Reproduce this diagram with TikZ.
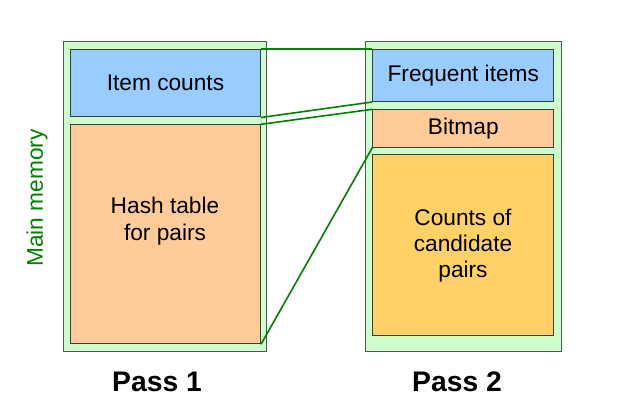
\documentclass[tikz,border=0pt]{standalone}
\usepackage{fontspec}
\setmainfont{Liberation Sans}
\definecolor{memgreen}{HTML}{CCFFCC}
\definecolor{itemblue}{HTML}{99CCFF}
\definecolor{hashorange}{HTML}{FFCC99}
\definecolor{candyellow}{HTML}{FFD166}
\definecolor{linegreen}{HTML}{008000}
\definecolor{edgegray}{HTML}{555555}
\begin{document}
\begin{tikzpicture}[x=1pt,y=-1pt,
  outerbox/.style={draw=edgegray, line width=1pt, fill=memgreen, anchor=north west, inner sep=0pt},
  memblock/.style={draw=edgegray!70!black, line width=1pt, anchor=north west, inner sep=0pt, align=center,
     font=\fontsize{22.7}{26}\selectfont},
  link/.style={draw=linegreen, line width=1.6pt},
  passlabel/.style={font=\fontsize{28.3}{30}\bfseries\selectfont}]
\useasboundingbox (0,0) rectangle (620,419);
% outer memory boxes
\node[outerbox, minimum width=203pt, minimum height=309pt] (m1) at (63,41.5) {};
\node[outerbox, minimum width=196.5pt, minimum height=309pt] (m2) at (364.5,41.5) {};
% pass 1
\node[memblock, fill=itemblue, minimum width=190pt, minimum height=67.5pt, text depth=2pt] (ic) at (70,49) {Item counts};
\node[memblock, fill=hashorange, minimum width=190pt, minimum height=219pt] (ht) at (70,124.3) {};
\node[font=\fontsize{22.7}{26.5}\selectfont, align=center] (htt) at (165,221) {Hash table\\for pairs};
% pass 2
\node[memblock, fill=itemblue, minimum width=181pt, minimum height=52pt] (fi) at (372.3,49) {\raisebox{-1.5pt}{Frequent items}};
\node[memblock, fill=hashorange, minimum width=181pt, minimum height=37.4pt] (bm) at (372.3,109.3) {Bitmap};
\node[memblock, fill=candyellow, minimum width=181pt, minimum height=180.7pt] (cc) at (372.3,154.3) {};
\node[font=\fontsize{22.7}{26}\selectfont, align=center] (cct) at (463,246) {Counts of\\candidate\\pairs};
% connectors
\draw[link] (ic.north east) -- (fi.north west);
\draw[link] (ic.south east) -- (fi.south west);
\draw[link] (ht.north east) -- (bm.north west);
\draw[link] (ht.south east) -- (bm.south west);
% labels
\node[passlabel] (p1) at (157,382) {Pass 1};
\node[passlabel] (p2) at (457,382) {Pass 2};
\node[rotate=90, text=linegreen, font=\fontsize{22.7}{26}\selectfont] (mm) at (37,198) {Main memory};
\end{tikzpicture}
\end{document}
